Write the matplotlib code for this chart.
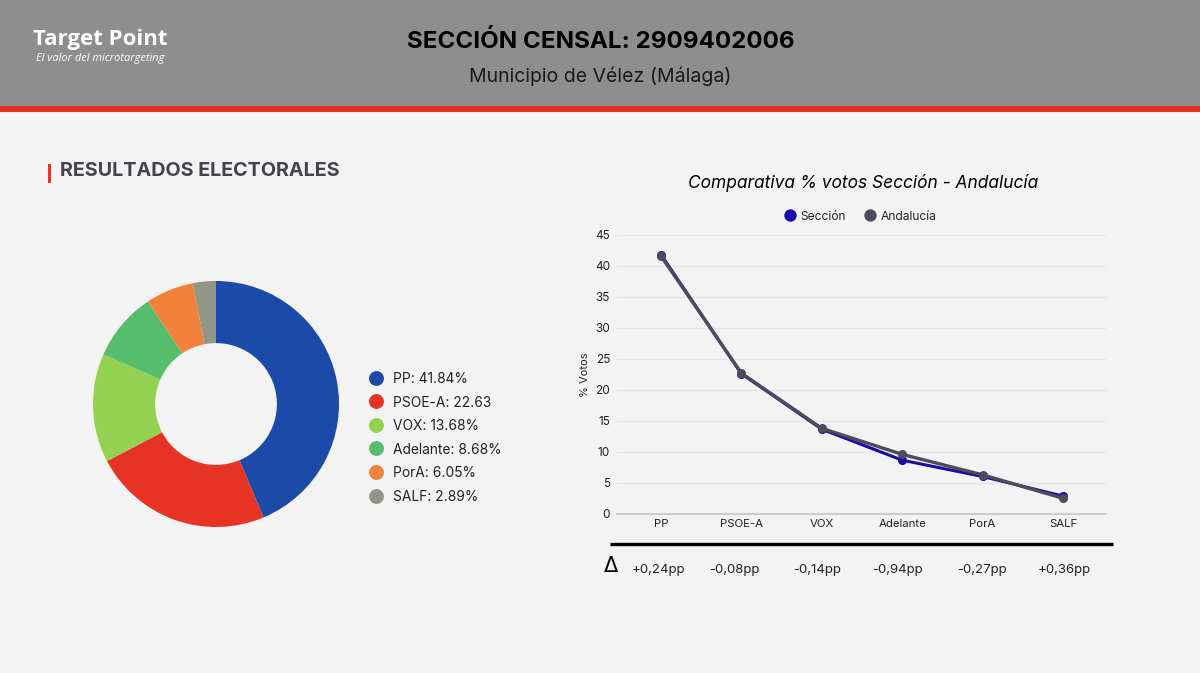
import matplotlib
matplotlib.use('Agg')
import matplotlib.pyplot as plt
from matplotlib.patches import Rectangle

# Datos
partidos = ['PP', 'PSOE-A', 'VOX', 'Adelante', 'PorA', 'SALF']
seccion = [41.84, 22.63, 13.68, 8.68, 6.05, 2.89]
andalucia = [41.60, 22.71, 13.82, 9.62, 6.32, 2.53]
leyenda = ['PP: 41.84%', 'PSOE-A: 22.63', 'VOX: 13.68%', 'Adelante: 8.68%', 'PorA: 6.05%', 'SALF: 2.89%']
deltas = ['+0,24pp', '-0,08pp', '-0,14pp', '-0,94pp', '-0,27pp', '+0,36pp']
colores = ['#1b4aa8', '#e63323', '#93d250', '#55bd6c', '#f2813c', '#929685']
yticks = [0, 5, 10, 15, 20, 25, 30, 35, 40, 45]

W, H = 1200, 673
plt.rcParams['font.family'] = ['Inter', 'DejaVu Sans']
fig = plt.figure(figsize=(12, 6.73), dpi=100, facecolor='#f3f3f4')

# capa en pixeles para cabecera y textos sueltos
bg = fig.add_axes([0, 0, 1, 1])
bg.set_xlim(0, W)
bg.set_ylim(H, 0)
bg.axis('off')
bg.add_patch(Rectangle((0, 0), W, 106, color='#8e8e8e', lw=0))
bg.add_patch(Rectangle((0, 106), W, 6, color='#e63323', lw=0))
bg.add_patch(Rectangle((48, 164), 3, 19, color='#e63323', lw=0))
bg.plot([610, 1113], [543.5, 543.5], color='black', lw=2.4, solid_capstyle='butt')

bg.text(100, 39, 'Target Point', color='white', fontsize=16, fontweight='bold',
        family=['Open Sans'], ha='center', va='center')
bg.text(100, 59, 'El valor del microtargeting', color='white', fontsize=7.9, style='italic',
        family=['Open Sans'], ha='center', va='center')
bg.text(600.5, 42, 'SECCIÓN CENSAL: 2909402006', color='black', fontsize=17.4, fontweight='bold',
        ha='center', va='center')
bg.text(600.5, 76, 'Municipio de Vélez (Málaga)', color='#1a1a1a', fontsize=14,
        ha='center', va='center')
bg.text(60, 171.5, 'RESULTADOS ELECTORALES', color='#45424e', fontsize=14.2, fontweight='bold',
        ha='left', va='center')
bg.text(863, 183, 'Comparativa % votos Sección - Andalucía', color='black', fontsize=12.5,
        style='italic', ha='center', va='center')

# leyenda de la dona
for i, txt in enumerate(leyenda):
    y = 377.5 + i * 23.6
    bg.scatter([376], [y], s=115, color=colores[i], lw=0)
    bg.text(393, y + 1.5, txt, color='#222222', fontsize=9.9, ha='left', va='center')

# leyenda de lineas
bg.scatter([790], [215], s=80, color='#1a0aa8', lw=0)
bg.text(800, 216.5, 'Sección', color='#222222', fontsize=8.6, ha='left', va='center')
bg.scatter([870], [215], s=80, color='#4e4c5c', lw=0)
bg.text(881, 216.5, 'Andalucía', color='#222222', fontsize=8.7, ha='left', va='center')

# deltas
bg.text(611, 566, 'Δ', color='black', fontsize=15, ha='center', va='center', family=['DejaVu Sans'])
for x, d in zip([658, 734, 817, 897, 982, 1064], deltas):
    bg.text(x, 569.5, d, color='#222222', fontsize=9.5, ha='center', va='center')

# dona
r = 123
ax1 = fig.add_axes([(216 - r) / W, 1 - (404 + r) / H, 2 * r / W, 2 * r / H])
ax1.pie(seccion, colors=colores, startangle=90, counterclock=False, radius=1,
        wedgeprops=dict(width=0.505, lw=0))
ax1.set_xlim(-1, 1)
ax1.set_ylim(-1, 1)

# lineas
left, right, top, bottom = 617, 1106, 235, 514
ax2 = fig.add_axes([left / W, 1 - bottom / H, (right - left) / W, (bottom - top) / H])
ax2.patch.set_alpha(0)
x = list(range(len(partidos)))
ax2.plot(x, seccion, color='#1a0aa8', lw=2.2, marker='o', ms=5.5, clip_on=False, zorder=3)
ax2.plot(x, andalucia, color='#4e4c5c', lw=2.4, marker='o', ms=5.5, clip_on=False, zorder=4)
ax2.set_xlim(-0.547, 5.535)
ax2.set_ylim(0, 45)
ax2.set_xticks(x)
ax2.set_xticklabels(partidos, fontsize=8.2, color='#222222')
ax2.set_yticks(yticks)
ax2.tick_params(axis='y', length=0, labelsize=8.5, labelcolor='#222222', pad=5)
ax2.tick_params(axis='x', length=0, pad=3.5)
ax2.set_ylabel('% Votos', fontsize=8, color='#222222', labelpad=3.5)
ax2.grid(axis='y', color='#e6e6e6', lw=1)
ax2.set_axisbelow(True)
for s in ax2.spines.values():
    s.set_visible(False)
ax2.spines['bottom'].set_visible(True)
ax2.spines['bottom'].set_color('#cccccc')
ax2.spines['bottom'].set_linewidth(1.5)

fig.savefig('out.png', dpi=100, facecolor=fig.get_facecolor())
